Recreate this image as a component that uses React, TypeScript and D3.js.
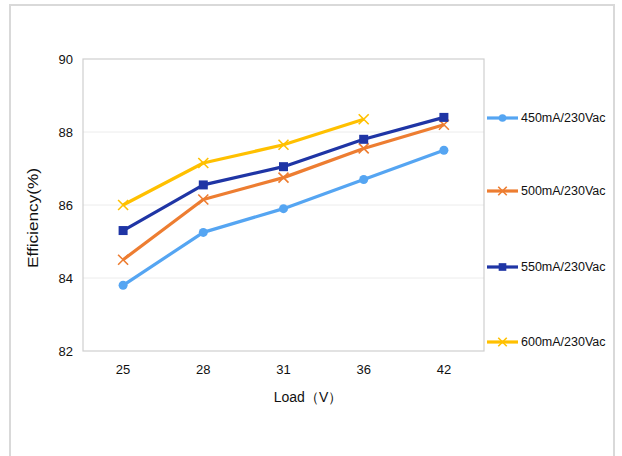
import React from "react";
import * as d3 from "d3";

const categories = ["25", "28", "31", "36", "42"];
const yTicks = [82, 84, 86, 88, 90];
const seriesNames = ["450mA/230Vac", "500mA/230Vac", "550mA/230Vac", "600mA/230Vac"];
const s450 = [83.8, 85.25, 85.9, 86.7, 87.5];
const s500 = [84.5, 86.15, 86.75, 87.55, 88.2];
const s550 = [85.3, 86.55, 87.05, 87.8, 88.4];
const s600: (number | null)[] = [86.0, 87.15, 87.65, 88.35, null];
const colors = ["#55a5f2", "#ed7d31", "#1f35a5", "#ffc000"];
const markers = ["circle", "x", "square", "x"];
const legendY = [118, 191, 267, 342];

const W = 622, H = 456;
const left = 83, right = 484, top = 59, bottom = 351;

function Marker({ type, x, y, color, s = 1 }: any) {
  if (type === "circle") return <circle cx={x} cy={y} r={4.5 * s} fill={color} />;
  if (type === "square") return <rect x={x - 4.5 * s} y={y - 4.5 * s} width={9 * s} height={9 * s} fill={color} />;
  const d = 5 * s;
  return (
    <path d={`M${x - d},${y - d}L${x + d},${y + d}M${x - d},${y + d}L${x + d},${y - d}`} stroke={color} strokeWidth={1.6} fill="none" />
  );
}

export default function App() {
  const x = d3.scaleBand().domain(categories).range([left, right]);
  const y = d3.scaleLinear().domain([82, 90]).range([bottom, top]);
  const series = [s450, s500, s550, s600];
  const font = "'Liberation Sans', Arial, sans-serif";
  const cx = (c: string) => (x(c) as number) + x.bandwidth() / 2;

  return (
    <svg width={W} height={H} style={{ position: "absolute", left: 0, top: 0, fontFamily: font }}>
      <rect x={0} y={0} width={W} height={H} fill="#fff" />
      <rect x={10} y={5} width={604} height={460} fill="#fff" stroke="#d9d9d9" strokeWidth={2} />
      {yTicks.slice(1, -1).map((t) => (
        <line key={t} x1={left} x2={right} y1={y(t)} y2={y(t)} stroke="#ececec" strokeWidth={1} />
      ))}
      <rect x={left} y={top} width={right - left} height={bottom - top} fill="none" stroke="#cfcfcf" strokeWidth={1.2} />
      {yTicks.map((t) => (
        <text key={t} x={left - 10} y={y(t)} dy="0.35em" textAnchor="end" fontSize={13} fill="#111">{t}</text>
      ))}
      {categories.map((c) => (
        <text key={c} x={cx(c)} y={bottom + 23} textAnchor="middle" fontSize={13} fill="#111">{c}</text>
      ))}
      <text x={308} y={402} textAnchor="middle" fontSize={14} fill="#111">Load（V）</text>
      <text transform={`translate(38,168) rotate(-90)`} textAnchor="end" fontSize={14} textLength={100} lengthAdjust="spacingAndGlyphs" fill="#111">Efficiency(%)</text>
      {series.map((vals, i) => {
        const pts = categories.map((c, j) => [cx(c), vals[j]] as [number, number | null]).filter((p) => p[1] != null) as [number, number][];
        const line = d3.line<[number, number]>().x((p) => p[0]).y((p) => y(p[1]));
        return (
          <g key={i}>
            <path d={line(pts) || ""} fill="none" stroke={colors[i]} strokeWidth={3.2} strokeLinejoin="round" />
            {pts.map((p, j) => (
              <Marker key={j} type={markers[i]} x={p[0]} y={y(p[1])} color={colors[i]} />
            ))}
          </g>
        );
      })}
      {seriesNames.map((n, i) => (
        <g key={n}>
          <line x1={487} x2={518} y1={legendY[i]} y2={legendY[i]} stroke={colors[i]} strokeWidth={3.2} />
          <Marker type={markers[i]} x={502.5} y={legendY[i]} color={colors[i]} s={0.85} />
          <text x={521} y={legendY[i]} dy="0.35em" fontSize={12.5} fill="#111">{n}</text>
        </g>
      ))}
    </svg>
  );
}
